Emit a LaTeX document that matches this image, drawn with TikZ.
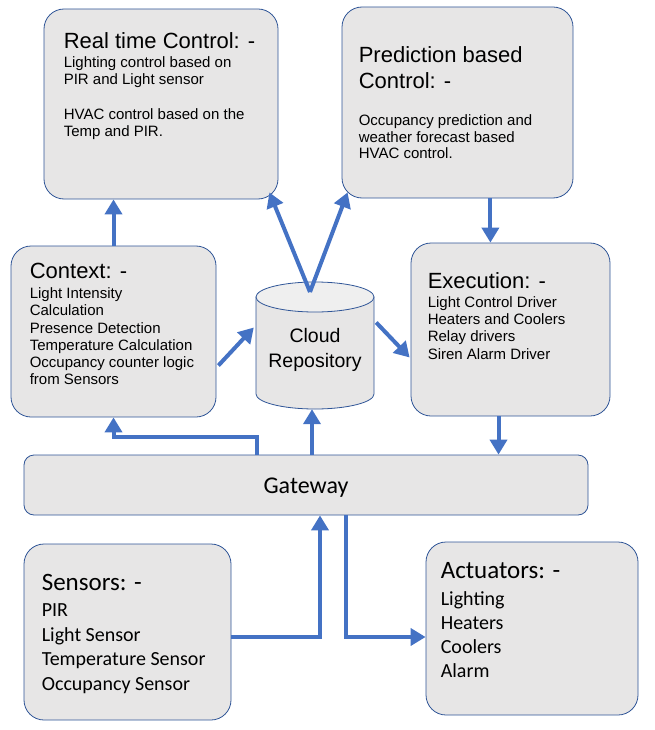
\documentclass[tikz,border=0pt]{standalone}
\usepackage{fontspec}
\setmainfont{Liberation Sans}
\newfontfamily\calibri{Carlito}
\usetikzlibrary{arrows.meta}
\definecolor{boxgray}{HTML}{E7E6E6}
\definecolor{boxline}{HTML}{2F5597}
\definecolor{flowblue}{HTML}{4472C4}
\definecolor{topgray}{HTML}{EFEFEF}
\tikzset{
  box/.style={draw=boxline, fill=boxgray, line width=0.8pt, rounded corners=20pt, inner sep=0pt},
  flow/.style={draw=flowblue, line width=4pt, -{Triangle[length=15pt,width=17pt]}},
  title/.style={anchor=base west, inner sep=0pt, font=\fontsize{22}{26}\selectfont},
  body/.style={anchor=base west, inner sep=0pt, font=\fontsize{15}{17}\selectfont},
  ctitle/.style={anchor=base west, inner sep=0pt, font=\calibri\fontsize{25}{30}\selectfont},
  cbody/.style={anchor=base west, inner sep=0pt, font=\calibri\fontsize{20}{24}\selectfont},
}
\begin{document}
\begin{tikzpicture}[x=1pt, y=-1pt]
\useasboundingbox (0,0) rectangle (655,730);

% boxes
\node[box, minimum width=234pt, minimum height=190pt] (rtc) at (161,104) {};
\node[box, minimum width=231pt, minimum height=191pt] (pbc) at (457.5,102.5) {};
\node[box, minimum width=205pt, minimum height=171pt] (ctx) at (113.5,331.5) {};
\node[box, minimum width=199pt, minimum height=173pt] (exe) at (510.5,329.5) {};
\node[box, rounded corners=10pt, minimum width=564pt, minimum height=60pt] (gw) at (306,485) {};
\node[box, minimum width=207pt, minimum height=176pt] (sen) at (127.5,632) {};
\node[box, minimum width=212pt, minimum height=173pt] (act) at (532,628.5) {};

% cloud repository (cylinder)
\path[draw=boxline, fill=boxgray, line width=0.8pt] (256,297) -- (256,394)
  arc[start angle=180, end angle=360, x radius=59pt, y radius=15pt] -- (374,297) -- cycle;
\draw[boxline, fill=topgray, line width=0.8pt] (315,297) ellipse [x radius=59pt, y radius=15pt];
\node[minimum width=118pt, minimum height=127pt, inner sep=0pt] (cloud) at (315,345.5) {};
\coordinate (ctop) at (310,292);
\node[anchor=base, inner sep=0pt, font=\fontsize{19.5}{24}\selectfont] (cloud-a) at ([shift={(0,-3.5)}]cloud.center) {Cloud};
\node[anchor=base, inner sep=0pt, font=\fontsize{19.5}{24}\selectfont] (cloud-b) at ([shift={(0,21.5)}]cloud.center) {Repository};

% texts
\node[title] (rtc-t) at ([shift={(20,40)}]rtc.north west) {Real time Control: -};
\foreach \dy/\t [count=\i] in {59/Lighting control based on, 76/PIR and Light sensor,
    111/HVAC control based on the, 128/Temp and PIR.}
  \node[body] (rtc-\i) at ([shift={(20,\dy)}]rtc.north west) {\t};

\node[title] (pbc-t1) at ([shift={(17,56)}]pbc.north west) {Prediction based};
\node[title] (pbc-t2) at ([shift={(17,82)}]pbc.north west) {Control: -};
\foreach \dy/\t [count=\i] in {119/Occupancy prediction and, 136/weather forecast based,
    152/HVAC control.}
  \node[body] (pbc-\i) at ([shift={(17,\dy)}]pbc.north west) {\t};

\node[title] (ctx-t) at ([shift={(19,33)}]ctx.north west) {Context: -};
\foreach \dy/\t [count=\i] in {53/Light Intensity, 70/Calculation, 88/Presence Detection,
    105/Temperature Calculation, 122/Occupancy counter logic, 139/from Sensors}
  \node[body] (ctx-\i) at ([shift={(19,\dy)}]ctx.north west) {\t};

\node[title] (exe-t) at ([shift={(17,46)}]exe.north west) {Execution: -};
\foreach \dy/\t [count=\i] in {65/Light Control Driver, 82/Heaters and Coolers,
    99/Relay drivers, 117/Siren Alarm Driver}
  \node[body] (exe-\i) at ([shift={(17,\dy)}]exe.north west) {\t};

\node[anchor=base, inner sep=0pt, font=\calibri\fontsize{24}{28}\selectfont] (gw-t) at ([shift={(0,8)}]gw.center) {Gateway};

\node[ctitle] (sen-t) at ([shift={(18,47)}]sen.north west) {Sensors: -};
\foreach \dy/\t [count=\i] in {73/PIR, 98/Light Sensor, 122/Temperature Sensor, 147/Occupancy Sensor}
  \node[cbody] (sen-\i) at ([shift={(18,\dy)}]sen.north west) {\t};

\node[ctitle] (act-t) at ([shift={(15,37)}]act.north west) {Actuators: -};
\foreach \dy/\t [count=\i] in {64/Lighting, 88/Heaters, 112/Coolers, 136/Alarm}
  \node[cbody] (act-\i) at ([shift={(15,\dy)}]act.north west) {\t};

% connectors
\draw[flow] (ctx.north) -- (ctx.north |- rtc.south);
\draw[flow] (ctop) -- ([shift={(-9,-7)}]rtc.south east);
\draw[flow] (ctop) -- ([shift={(6,-6)}]pbc.south west);
\draw[flow] ([shift={(-83,0)}]pbc.south east) -- ([shift={(-83,0)}]pbc.south east |- exe.north);
\draw[flow] ([shift={(2,34)}]ctx.east) -- ([shift={(-2,-18)}]cloud.west);
\draw[flow] ([shift={(2,-23)}]cloud.east) -- ([shift={(-1,28)}]exe.west);
\draw[flow] ([shift={(-49,0)}]gw.north) -- ++(0,-18) -| (ctx.south);
\draw[flow] ([shift={(-3,0)}]cloud.south |- gw.north) -- ([shift={(-3,0)}]cloud.south);
\draw[flow] ([shift={(-12,0)}]exe.south) -- ([shift={(-12,0)}]exe.south |- gw.north);
\draw[flow] ([shift={(0,5)}]sen.east) -| ([shift={(14,0)}]gw.south);
\draw[flow] ([shift={(40,0)}]gw.south) |- ([shift={(0,8.5)}]act.west);
\end{tikzpicture}
\end{document}
